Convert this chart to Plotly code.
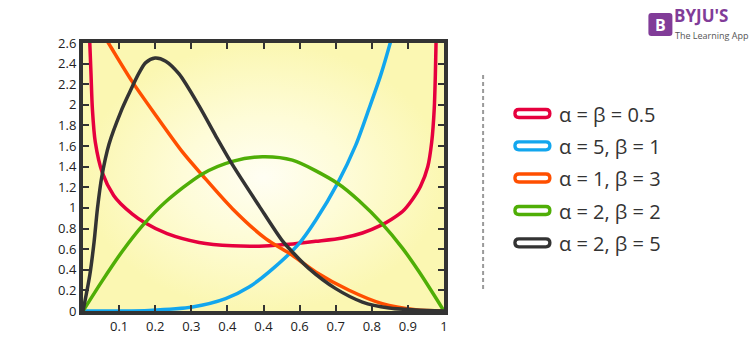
import plotly.graph_objects as go

# ---------------- data ----------------
labels = ["α = β = 0.5", "α = 5, β = 1", "α = 1, β = 3", "α = 2, β = 2", "α = 2, β = 5"]
colors = ["#e6003e", "#12a6ee", "#ff4f00", "#4fae06", "#333333"]

red_x = [0.013, 0.0187, 0.0223, 0.026, 0.034, 0.0537, 0.085, 0.1045, 0.1368, 0.169, 0.233, 0.3216,
         0.414, 0.5016, 0.571, 0.6446, 0.7186, 0.774, 0.829, 0.855, 0.885, 0.912, 0.935, 0.955,
         0.966, 0.973, 0.976, 0.978, 0.982]
red_y = [3.1, 2.61, 2.29, 1.96, 1.64, 1.34, 1.12, 1.04, 0.94, 0.860, 0.750, 0.665,
         0.633, 0.631, 0.647, 0.676, 0.709, 0.757, 0.838, 0.890, 0.965, 1.08, 1.21, 1.40,
         1.641, 1.964, 2.288, 2.61, 3.1]

blue_x = [0.0, 0.10, 0.183, 0.303, 0.395, 0.46, 0.5155, 0.5985, 0.6446, 0.7047, 0.7555, 0.7924, 0.8247, 0.852, 0.87]
blue_y = [0.0, 0.0005, 0.006, 0.039, 0.12, 0.233, 0.379, 0.654, 0.880, 1.236, 1.609, 1.964, 2.288, 2.612, 2.85]

orange_x = [0.03, 0.0704, 0.1368, 0.2014, 0.2753, 0.3307, 0.4139, 0.506, 0.580, 0.6446, 0.737, 0.829, 0.9217, 1.0]
orange_y = [2.83, 2.60, 2.223, 1.90, 1.544, 1.317, 0.993, 0.702, 0.540, 0.379, 0.201, 0.071, 0.013, 0.0]

green_x = [0.0, 0.0537, 0.109, 0.169, 0.229, 0.3307, 0.4139, 0.497, 0.580, 0.7047, 0.7647, 0.829, 0.8848, 0.931, 1.0]
green_y = [0.0, 0.295, 0.58, 0.845, 1.06, 1.33, 1.452, 1.497, 1.463, 1.24, 1.07, 0.845, 0.61, 0.38, 0.0]

black_x = [0.0, 0.0187, 0.0307, 0.040, 0.0519, 0.0722, 0.1045, 0.1276, 0.1553, 0.1738, 0.1996, 0.229,
           0.266, 0.3215, 0.3676, 0.4139, 0.4877, 0.5524, 0.580, 0.626, 0.700, 0.774, 0.848, 0.9217, 1.0]
black_y = [0.0, 0.346, 0.670, 0.993, 1.30, 1.62, 1.93, 2.11, 2.31, 2.41, 2.455, 2.424,
           2.30, 1.99, 1.70, 1.42, 1.02, 0.68, 0.573, 0.411, 0.217, 0.087, 0.029, 0.010, 0.0]

series_x = [red_x, blue_x, orange_x, green_x, black_x]
series_y = [red_y, blue_y, orange_y, green_y, black_y]

x_tickvals = [0.1, 0.2, 0.3, 0.4, 0.5, 0.6, 0.7, 0.8, 0.9, 1.0]
x_ticktext = ["0.1", "0.2", "0.3", "0.4", "0.4", "0.6", "0.7", "0.8", "0.9", "1"]
y_tickvals = [0, 0.2, 0.4, 0.6, 0.8, 1.0, 1.2, 1.4, 1.6, 1.8, 2.0, 2.2, 2.4, 2.6]
y_ticktext = ["0", "0.2", "0.4", "0.6", "0.8", "1", "1.2", "1.4", "1.6", "1.8", "2", "2.2", "2.4", "2.6"]

X_RANGE = [0, 1]
Y_RANGE = [0, 2.6]

# ---------------- figure ----------------
W, H = 750, 350
ML, MR, MT, MB = 82.6, 750 - 443.6, 43, 39
PW, PH = W - ML - MR, H - MT - MB


def px(xp):
    return (xp - ML) / PW


def py(yp):
    return (H - MB - yp) / PH


fig = go.Figure()

# radial yellow background of the plotting area
fig.add_trace(go.Scatter(
    x=[X_RANGE[0], X_RANGE[1], X_RANGE[1], X_RANGE[0], X_RANGE[0]],
    y=[Y_RANGE[0], Y_RANGE[0], Y_RANGE[1], Y_RANGE[1], Y_RANGE[0]],
    mode="lines", line=dict(width=0), fill="toself",
    fillgradient=dict(type="radial", colorscale=[[0, "#fffef3"], [0.45, "#fefcd8"], [1, "#fbf7b2"]]),
    hoverinfo="skip", showlegend=False))

for xs, ys, c, lab in zip(series_x, series_y, colors, labels):
    fig.add_trace(go.Scatter(x=xs, y=ys, mode="lines", name=lab,
                             line=dict(color=c, width=3.5, shape="spline", smoothing=0.8),
                             showlegend=False, hoverinfo="skip"))

FONT = "Open Sans"
axis_common = dict(showline=True, linewidth=4, linecolor="#333333", mirror="ticks",
                   ticks="inside", ticklen=6, tickwidth=2, tickcolor="#333333",
                   showgrid=False, zeroline=False, fixedrange=True,
                   tickfont=dict(family=FONT, size=13, color="#222222"))

fig.update_layout(
    width=W, height=H,
    margin=dict(l=ML, r=MR, t=MT, b=MB),
    paper_bgcolor="white", plot_bgcolor="white",
    showlegend=False,
    xaxis=dict(range=X_RANGE, tickmode="array", tickvals=x_tickvals, ticktext=x_ticktext, **axis_common),
    yaxis=dict(range=Y_RANGE, tickmode="array", tickvals=y_tickvals, ticktext=y_ticktext, **axis_common),
)

# ---------------- custom legend (pill swatches) ----------------
row_y = [113.5, 145.8, 178.0, 210.5, 242.8]
pill = ("M -13.5,-4 L 13.5,-4 Q 17.5,-4 17.5,0 Q 17.5,4 13.5,4 L -13.5,4 "
        "Q -17.5,4 -17.5,0 Q -17.5,-4 -13.5,-4 Z")
shapes = []
annotations = []
for ry, c, lab in zip(row_y, colors, labels):
    shapes.append(dict(type="path", xref="paper", yref="paper", xsizemode="pixel", ysizemode="pixel",
                       xanchor=px(532), yanchor=py(ry), path=pill,
                       line=dict(color=c, width=3.3), fillcolor="white"))
    annotations.append(dict(xref="paper", yref="paper", x=px(557), y=py(ry + 0.5),
                            xanchor="left", yanchor="middle", showarrow=False, text=lab,
                            font=dict(family=FONT, size=20, color="#333333")))

# dotted separator
shapes.append(dict(type="line", xref="paper", yref="paper", x0=px(482.7), x1=px(482.7),
                   y0=py(75), y1=py(290), line=dict(color="#9a9a9a", width=2, dash="4px,3px")))

# logo
shapes.append(dict(type="path", xref="paper", yref="paper", xsizemode="pixel", ysizemode="pixel",
                   xanchor=px(660), yanchor=py(24.5),
                   path="M -9,-11.5 L 9,-11.5 Q 12,-11.5 12,-8.5 L 12,8.5 Q 12,11.5 9,11.5 L -9,11.5 "
                        "Q -12,11.5 -12,8.5 L -12,-8.5 Q -12,-11.5 -9,-11.5 Z",
                   line=dict(width=0), fillcolor="#813c98"))
annotations.append(dict(xref="paper", yref="paper", x=px(660), y=py(25), showarrow=False,
                        text="<b>B</b>", font=dict(family=FONT, size=16, color="white"),
                        xanchor="center", yanchor="middle"))
annotations.append(dict(xref="paper", yref="paper", x=px(673), y=py(28), showarrow=False,
                        text="<b>BYJU'S</b>", font=dict(family=FONT, size=17, color="#813c98"),
                        xanchor="left", yanchor="bottom", borderpad=0))
annotations.append(dict(xref="paper", yref="paper", x=px(674), y=py(28), showarrow=False,
                        text="The Learning App", font=dict(family=FONT, size=9, color="#555555"),
                        xanchor="left", yanchor="top", borderpad=0))

fig.update_layout(shapes=shapes, annotations=annotations)

fig.write_html("out.html")
